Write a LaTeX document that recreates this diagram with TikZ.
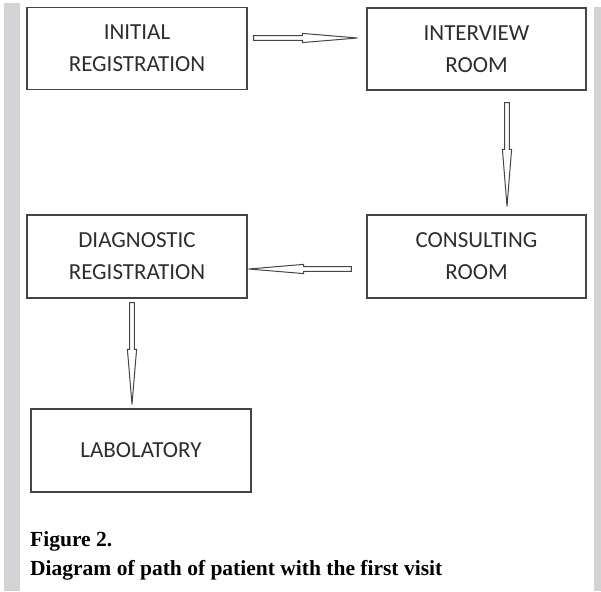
\documentclass[tikz,border=0pt]{standalone}
\usepackage{fontspec}
\setmainfont{Liberation Serif}
\newfontfamily\boxfont{Carlito}
\usetikzlibrary{calc}
\definecolor{bargray}{HTML}{D3D3D5}
\definecolor{edgegray}{HTML}{454545}
\definecolor{txtgray}{HTML}{2E2E2E}
\newcommand\flowarrow[3]{%
  \draw[arrowline] let \p1=(#1), \p2=(#2), \n1={atan2(\y2-\y1,\x2-\x1)}, \n2={veclen(\x2-\x1,\y2-\y1)} in
    ($(\p1)+({\n1+90}:2.3)$) -- ($(\p1)+({\n1}:{\n2-#3})+({\n1+90}:2.3)$)
    -- ($(\p1)+({\n1}:{\n2-#3})+({\n1+90}:4.6)$) -- (\p2)
    -- ($(\p1)+({\n1}:{\n2-#3})+({\n1-90}:4.6)$) -- ($(\p1)+({\n1}:{\n2-#3})+({\n1-90}:2.3)$)
    -- ($(\p1)+({\n1-90}:2.3)$) -- cycle;}
\begin{document}
\begin{tikzpicture}[x=1pt,y=1pt,
  flowbox/.style={draw=edgegray, line width=1.3pt, fill=white, minimum width=220pt, minimum height=82pt,
    inner sep=0pt, align=center, text=txtgray, font=\boxfont\fontsize{23}{32}\selectfont},
  arrowline/.style={draw=edgegray, line width=1pt, fill=white, line join=miter},
  capt/.style={anchor=base west, inner sep=0pt, font=\bfseries\fontsize{21.5}{24}\selectfont, text=black}]
\useasboundingbox (0,0) rectangle (601,591);
\fill[white] (0,0) rectangle (601,591);
\fill[bargray] (4,0) rectangle (20,588);
\fill[bargray] (594,0) rectangle (601,584);

\node[flowbox] (init) at (137,542.5) {INITIAL\\REGISTRATION};
\node[flowbox, minimum width=219pt] (interview) at (476.5,542) {INTERVIEW\\ROOM};
\node[flowbox, minimum width=219pt, minimum height=83pt] (consult) at (476.5,334.5) {CONSULTING\\ROOM};
\node[flowbox, minimum height=83pt] (diag) at (137,334.5) {DIAGNOSTIC\\REGISTRATION};
\node[flowbox, minimum height=83pt] (lab) at (141,140.5) {LABOLATORY};

\flowarrow{$(init.east)+(6,10.5)$}{$(interview.west)+(-9,11)$}{55}
\flowarrow{$(interview.south)+(30.5,-12)$}{$(consult.north)+(30.5,8)$}{57}
\flowarrow{$(consult.west)+(-15,-12.5)$}{$(diag.east)+(1,-12.5)$}{55}
\flowarrow{$(diag.south)+(-5,-4)$}{$(lab.north)+(-9,4)$}{55}

\node[capt] (fig) at (30,45) {Figure 2.};
\node[capt] (cap) at (30,16) {Diagram of path of patient with the first visit};
\end{tikzpicture}
\end{document}
